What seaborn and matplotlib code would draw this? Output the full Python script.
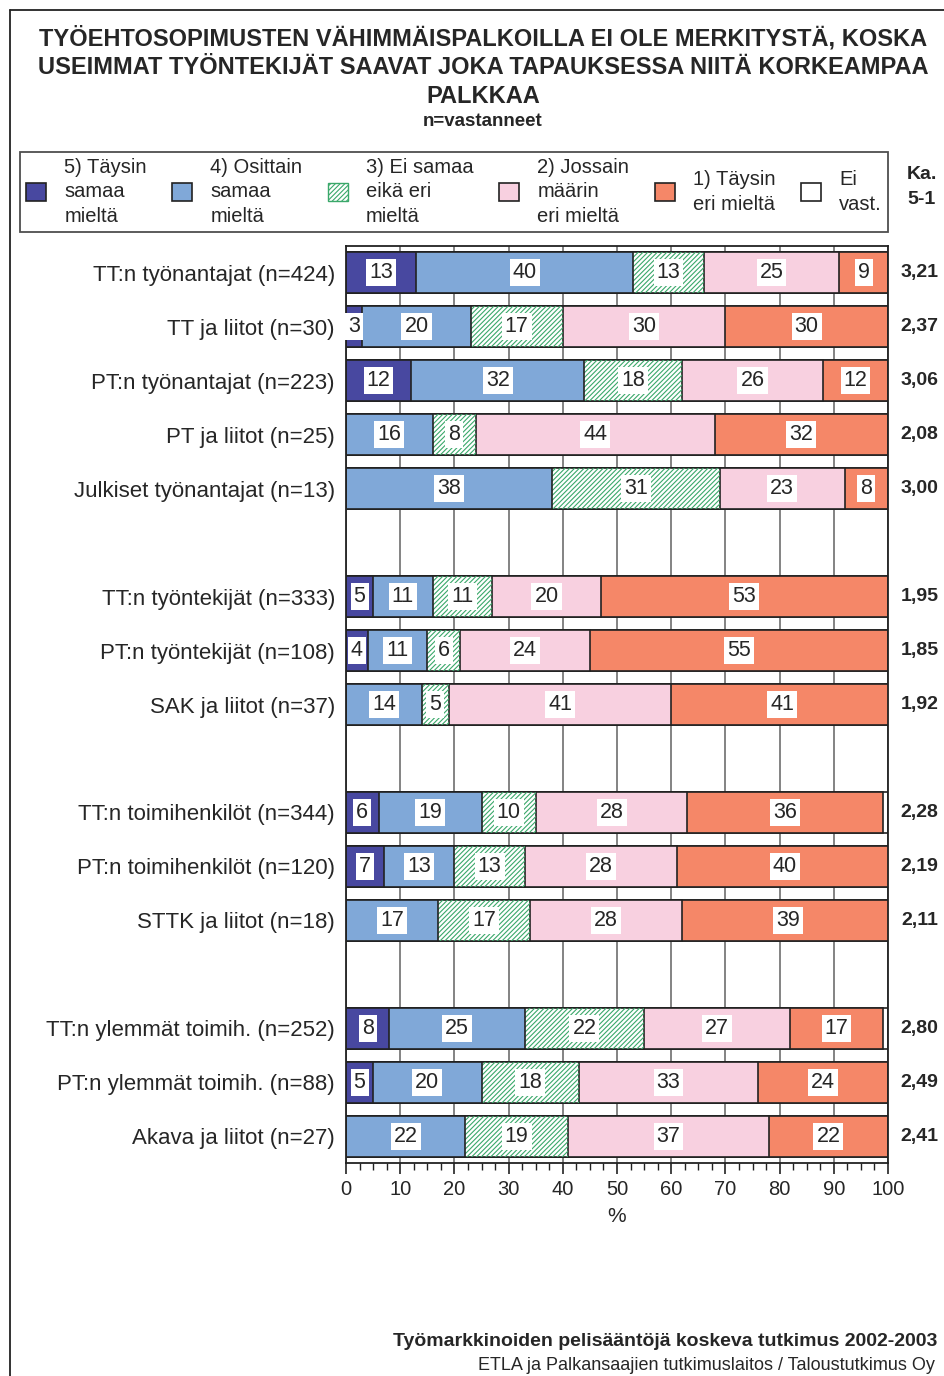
import numpy as np
import pandas as pd
import seaborn as sns
import matplotlib.pyplot as plt
from matplotlib.patches import Patch
from matplotlib.lines import Line2D
from matplotlib.ticker import MultipleLocator

# Vastaajaryhmät ja vastausjakaumat (%)
ryhmat = [
    "TT:n työnantajat (n=424)", "TT ja liitot (n=30)", "PT:n työnantajat (n=223)",
    "PT ja liitot (n=25)", "Julkiset työnantajat (n=13)",
    "TT:n työntekijät (n=333)", "PT:n työntekijät (n=108)", "SAK ja liitot (n=37)",
    "TT:n toimihenkilöt (n=344)", "PT:n toimihenkilöt (n=120)", "STTK ja liitot (n=18)",
    "TT:n ylemmät toimih. (n=252)", "PT:n ylemmät toimih. (n=88)", "Akava ja liitot (n=27)",
]
taysin_samaa = [13, 3, 12, 0, 0, 5, 4, 0, 6, 7, 0, 8, 5, 0]
osittain_samaa = [40, 20, 32, 16, 38, 11, 11, 14, 19, 13, 17, 25, 20, 22]
ei_samaa_eika_eri = [13, 17, 18, 8, 31, 11, 6, 5, 10, 13, 17, 22, 18, 19]
jossain_maarin = [25, 30, 26, 44, 23, 20, 24, 41, 28, 28, 28, 27, 33, 37]
taysin_eri = [9, 30, 12, 32, 8, 53, 55, 41, 36, 40, 39, 17, 24, 22]
ei_vast = [0, 0, 0, 0, 0, 0, 0, 0, 1, 0, 0, 1, 0, 0]
keskiarvo = ["3,21", "2,37", "3,06", "2,08", "3,00", "1,95", "1,85", "1,92",
             "2,28", "2,19", "2,11", "2,80", "2,49", "2,41"]

luokat = ["5) Täysin\nsamaa\nmieltä", "4) Osittain\nsamaa\nmieltä", "3) Ei samaa\neikä eri\nmieltä",
          "2) Jossain\nmäärin\neri mieltä", "1) Täysin\neri mieltä", "Ei\nvast."]
varit = ["#4848A0", "#80A8D8", "white", "#F8D0E0", "#F58768", "white"]
vihrea = "#3AA86A"

# tyhjät rivit ryhmien väliin
jarjestys = ryhmat[0:5] + [" "] + ryhmat[5:8] + ["  "] + ryhmat[8:11] + ["   "] + ryhmat[11:14]

sns.set_style("white")
plt.rcParams["font.family"] = ["Liberation Sans", "DejaVu Sans"]
plt.rcParams["hatch.linewidth"] = 0.8

df = pd.DataFrame({"ryhma": ryhmat})
sarjat = [taysin_samaa, osittain_samaa, ei_samaa_eika_eri, jossain_maarin, taysin_eri, ei_vast]
kum = np.cumsum(np.array(sarjat, dtype=float), axis=0)
for i in range(6):
    df[f"c{i}"] = kum[i]

fig = plt.figure(figsize=(9.44, 13.76), dpi=100)
ax = fig.add_axes([346 / 944, 1 - 1163 / 1376, 542 / 944, 917 / 1376])

reuna = "#222222"
leveys = 0.76
# pinottu: leveimmästä kapeimpaan
for i in range(5, -1, -1):
    sns.barplot(data=df, x=f"c{i}", y="ryhma", order=jarjestys, orient="h",
                color=varit[i], saturation=1, errorbar=None, width=leveys,
                edgecolor=reuna, linewidth=1.2, ax=ax, zorder=2)
    if i == 2:
        sns.barplot(data=df, x=f"c{i}", y="ryhma", order=jarjestys, orient="h",
                    facecolor="none", saturation=1, errorbar=None, width=leveys,
                    edgecolor=vihrea, linewidth=0, hatch="///////", ax=ax, zorder=2)

# arvot valkoisissa laatikoissa
for r, nimi in enumerate(ryhmat):
    y = jarjestys.index(nimi)
    alku = 0
    for i in range(5):
        v = sarjat[i][r]
        if v > 0:
            ax.text(alku + v / 2, y, f"{v}", ha="center", va="center", fontsize=15.5, zorder=5,
                    bbox=dict(facecolor="white", edgecolor="none", pad=2.2))
        alku += v
    ax.text(1.058, y, keskiarvo[r], transform=ax.get_yaxis_transform(), ha="center",
            va="center", fontsize=14, fontweight="bold")

ax.set_xlim(0, 100)
ax.set_ylim(len(jarjestys) - 0.5, -0.5)
ax.set_xticks(range(0, 101, 10))
ax.xaxis.set_minor_locator(MultipleLocator(2.5))
ax.tick_params(axis="x", which="major", direction="out", length=8, width=1.2,
               labelsize=14.5, pad=4, bottom=True, color=reuna)
ax.tick_params(axis="x", which="minor", direction="out", length=5, width=1,
               bottom=True, color=reuna)
ax.tick_params(axis="y", length=0, labelsize=16, pad=8)
ax.set_xlabel("%", fontsize=15, labelpad=6)
ax.set_ylabel("")
ax.grid(axis="x", color="#7a7a7a", linewidth=1.3)
ax.set_axisbelow(True)
for s in ax.spines.values():
    s.set_color(reuna)
    s.set_linewidth(1.3)

# selite
kahvat = []
for i in range(6):
    if i == 2:
        kahvat.append(Patch(facecolor="white", edgecolor=vihrea, hatch="///////", linewidth=1))
    else:
        kahvat.append(Patch(facecolor=varit[i], edgecolor=reuna, linewidth=1.2))
leg = fig.legend(kahvat, luokat, ncol=6, loc="lower left", mode="expand",
                 bbox_to_anchor=(20 / 944, 1 - 232 / 1376, 868 / 944, 94 / 1376),
                 fontsize=14.5, frameon=True, fancybox=False, edgecolor=reuna,
                 handlelength=1.0, handleheight=1.0, handletextpad=0.9,
                 borderaxespad=0, borderpad=0.3)
leg.get_frame().set_linewidth(1.3)
for t in leg.get_texts():
    t.set_linespacing(1.38)

fig.text(922 / 944, 1 - 187 / 1376, "Ka.\n5-1", ha="center", va="center", fontsize=14,
         fontweight="bold", linespacing=1.6)

# otsikko
fig.text(483 / 944, 1 - 67 / 1376,
         "TYÖEHTOSOPIMUSTEN VÄHIMMÄISPALKOILLA EI OLE MERKITYSTÄ, KOSKA\n"
         "USEIMMAT TYÖNTEKIJÄT SAAVAT JOKA TAPAUKSESSA NIITÄ KORKEAMPAA\nPALKKAA",
         ha="center", va="center", fontsize=17, fontweight="bold", linespacing=1.3)
fig.text(483 / 944, 1 - 122 / 1376, "n=vastanneet", ha="center", va="center",
         fontsize=13.5, fontweight="bold")

# lähde
fig.text(937 / 944, 1 - 1341 / 1376, "Työmarkkinoiden pelisääntöjä koskeva tutkimus 2002-2003",
         ha="right", va="center", fontsize=14, fontweight="bold")
fig.text(935 / 944, 1 - 1365 / 1376, "ETLA ja Palkansaajien tutkimuslaitos / Taloustutkimus Oy",
         ha="right", va="center", fontsize=13)

# kehys
fig.add_artist(Line2D([10 / 944, 10 / 944], [0, 1 - 10 / 1376], color=reuna, lw=1.3))
fig.add_artist(Line2D([10 / 944, 1], [1 - 10 / 1376, 1 - 10 / 1376], color=reuna, lw=1.3))

fig.savefig("out.png", dpi=100)
